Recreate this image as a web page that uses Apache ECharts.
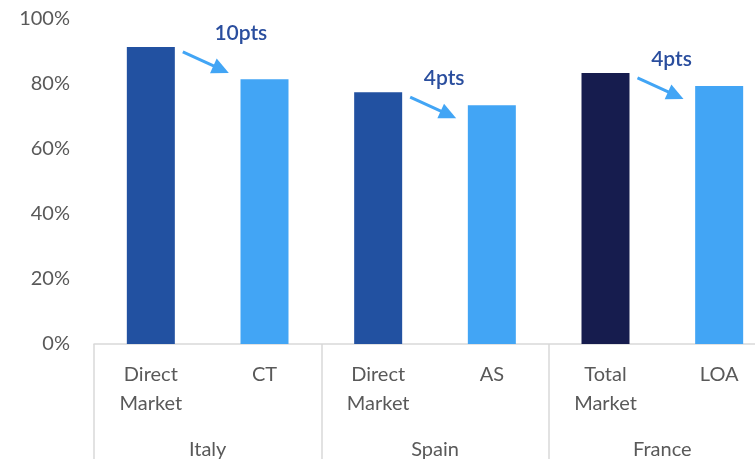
<!DOCTYPE html>
<html>
<head>
<meta charset="utf-8">
<script src="https://cdn.jsdelivr.net/npm/echarts@6/dist/echarts.min.js"></script>
<style>
  html, body { margin: 0; padding: 0; background: #fff; }
  #chart { width: 755px; height: 459px; }
</style>
</head>
<body>
<div id="chart"></div>
<script>
// bar categories (two-line labels) and their country groups
var categories = ['Direct\nMarket', 'CT', 'Direct\nMarket', 'AS', 'Total\nMarket', 'LOA'];
var groups = ['Italy', 'Spain', 'France'];
var values = [91.4, 81.5, 77.5, 73.5, 83.4, 79.4];

// arrow notes: from bar index -> next bar
var noteFrom = [0, 2, 4];
var noteText = ['10pts', '4pts', '4pts'];

var barColors = ['#2251A1', '#42A5F5', '#2251A1', '#42A5F5', '#161C4E', '#42A5F5'];
var font = 'Lato';

var chart = echarts.init(document.getElementById('chart'));

chart.setOption({
  animation: false,
  textStyle: { fontFamily: font },
  grid: { left: 94, width: 682, top: 19, bottom: 115, containLabel: false, outerBoundsMode: 'none' },
  xAxis: [{
    type: 'category',
    data: categories,
    axisLine: { lineStyle: { color: '#D9D9D9', width: 1.5 } },
    axisTick: {
      show: true,
      length: 120,
      interval: function (i) { return i % 2 === 0; },
      lineStyle: { color: '#D9D9D9', width: 1.5 }
    },
    axisLabel: {
      color: '#595959', fontSize: 20, lineHeight: 29, margin: 16,
      fontFamily: font, interval: 0
    }
  }, {
    type: 'category',
    position: 'bottom',
    data: groups,
    axisLine: { show: false },
    axisTick: { show: false },
    axisLabel: { color: '#595959', fontSize: 20, lineHeight: 24, margin: 94, fontFamily: font }
  }],
  yAxis: {
    type: 'value',
    min: 0, max: 100, interval: 20,
    axisLine: { show: false },
    axisTick: { show: false },
    splitLine: { show: false },
    axisLabel: { formatter: '{value}%', color: '#595959', fontSize: 20, margin: 24, fontFamily: font }
  },
  series: [{
    type: 'bar',
    xAxisIndex: 0,
    barWidth: 48,
    data: values.map(function (v, i) {
      return { value: v, itemStyle: { color: barColors[i] } };
    })
  }]
});

// arrows + labels, placed from the bar positions
var els = [];
var dx = 46, dy = 21, len = Math.sqrt(dx * dx + dy * dy);
var ux = dx / len, uy = dy / len, nx = -uy, ny = ux;
for (var k = 0; k < noteFrom.length; k++) {
  var idx = noteFrom[k];
  var p = chart.convertToPixel({ xAxisIndex: 0, yAxisIndex: 0 }, [idx, values[idx]]);
  var sx = p[0] + 24 + 8, sy = p[1] + 5;
  var ex = sx + dx, ey = sy + dy;
  var hl = 17, hw = 8;
  var bx = ex - ux * hl, by = ey - uy * hl;
  els.push({
    type: 'line',
    shape: { x1: sx, y1: sy, x2: bx + ux * 2, y2: by + uy * 2 },
    style: { stroke: '#42A5F5', lineWidth: 3 }
  });
  els.push({
    type: 'polygon',
    shape: { points: [[ex, ey], [bx + nx * hw, by + ny * hw], [bx - nx * hw, by - ny * hw]] },
    style: { fill: '#42A5F5' }
  });
  els.push({
    type: 'text',
    x: sx + (k === 0 ? 58 : 34),
    y: p[1] - 14,
    style: {
      text: noteText[k], fill: '#2A4E9E', font: '600 21px ' + font,
      align: 'center', verticalAlign: 'middle'
    }
  });
}
chart.setOption({ graphic: els });
</script>
</body>
</html>
